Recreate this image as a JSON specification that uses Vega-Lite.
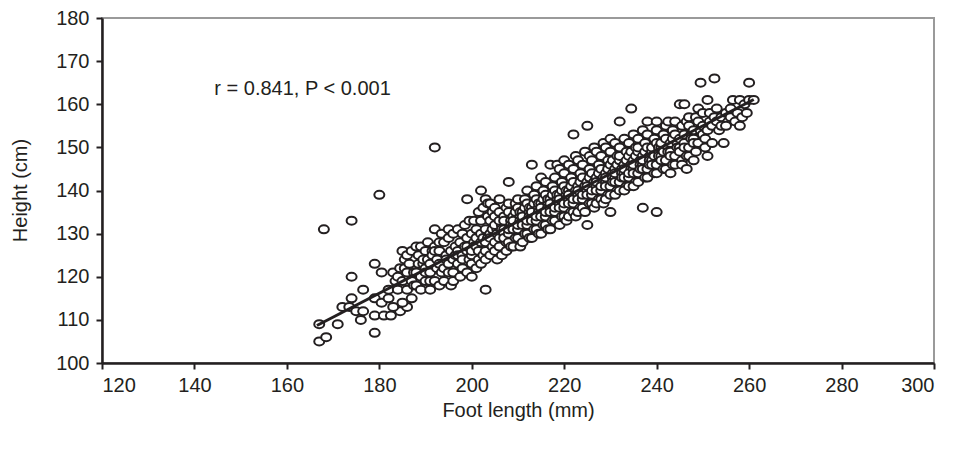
{
"$schema": "https://vega.github.io/schema/vega-lite/v6.json",
"width": 832, "height": 345,
"autosize": {"type": "none"},
"padding": {"left": 102, "top": 18, "right": 20, "bottom": 89},
"background": "white",
"config": {
 "view": {"stroke": "#9a9a9a", "strokeWidth": 2},
 "font": "Liberation Sans",
 "axis": {"domainColor": "#231f20", "domainWidth": 2.5, "tickColor": "#231f20", "tickWidth": 2, "tickSize": 6, "grid": false, "labelFont": "Liberation Sans", "labelFontSize": 20, "labelColor": "#231f20", "titleFont": "Liberation Sans", "titleFontSize": 20, "titleFontWeight": "normal", "titleColor": "#231f20"}
},
"datasets": {
 "pts": [
{"f":167,"h":109},{"f":167,"h":105},{"f":168.5,"h":106},{"f":171,"h":109},{"f":174,"h":120},{"f":179,"h":123},{"f":180.5,"h":121},{"f":179,"h":107},{"f":176.5,"h":117},{"f":174,"h":115},{"f":172,"h":113},{"f":173.5,"h":113},{"f":175,"h":112},{"f":176.5,"h":112},{"f":176,"h":110},{"f":179,"h":111},{"f":181,"h":111},{"f":182.5,"h":111},{"f":184.5,"h":112},{"f":186,"h":113},{"f":179,"h":115},{"f":180.5,"h":114},{"f":182,"h":115},{"f":182,"h":117},{"f":180,"h":139},{"f":174,"h":133},{"f":168,"h":131},{"f":192,"h":150},{"f":192,"h":131},{"f":203,"h":117},
{"f":183,"h":113},{"f":183.5,"h":119},{"f":183,"h":121},
{"f":184,"h":117},{"f":184.5,"h":122},{"f":184,"h":120},
{"f":185,"h":119},{"f":185.5,"h":124},{"f":185,"h":114},{"f":185,"h":126},{"f":185.5,"h":122},
{"f":186,"h":117},{"f":186.5,"h":123},{"f":186,"h":125},{"f":186.5,"h":120},{"f":186,"h":121},
{"f":187,"h":119},{"f":187.5,"h":121},{"f":187,"h":126},{"f":187,"h":115},{"f":187.5,"h":118},
{"f":188,"h":121},{"f":188.5,"h":123},{"f":188,"h":118},{"f":188.5,"h":125},{"f":188,"h":127},
{"f":189,"h":120},{"f":189.5,"h":123},{"f":189,"h":127},{"f":189,"h":117},{"f":189.5,"h":124},
{"f":190,"h":122},{"f":190.5,"h":124},{"f":190,"h":119},{"f":190.5,"h":128},{"f":190,"h":121},{"f":190,"h":126},
{"f":191,"h":121},{"f":191.5,"h":126},{"f":191,"h":123},{"f":191,"h":117},{"f":191.5,"h":125},{"f":191,"h":119},
{"f":192,"h":119},{"f":192.5,"h":124},{"f":192,"h":127},{"f":192.5,"h":122},{"f":192,"h":126},
{"f":193,"h":123},{"f":193.5,"h":121},{"f":193,"h":126},{"f":193,"h":118},{"f":193.5,"h":130},{"f":193,"h":128},
{"f":194,"h":122},{"f":194.5,"h":125},{"f":194,"h":128},{"f":194,"h":119},{"f":194.5,"h":124},
{"f":195,"h":121},{"f":195.5,"h":126},{"f":195,"h":123},{"f":195,"h":129},{"f":195.5,"h":118},{"f":195,"h":131},
{"f":196,"h":124},{"f":196.5,"h":127},{"f":196,"h":121},{"f":196,"h":130},{"f":196.5,"h":125},{"f":196,"h":119},
{"f":197,"h":123},{"f":197.5,"h":128},{"f":197,"h":126},{"f":197,"h":131},{"f":197.5,"h":120},{"f":197,"h":125},
{"f":198,"h":122},{"f":198.5,"h":127},{"f":198,"h":125},{"f":198,"h":130},{"f":198.5,"h":132},{"f":198,"h":124},
{"f":199,"h":126},{"f":199.5,"h":124},{"f":199,"h":129},{"f":199,"h":121},{"f":199.5,"h":133},{"f":199,"h":127},{"f":199,"h":138},
{"f":200,"h":125},{"f":200.5,"h":128},{"f":200,"h":123},{"f":200,"h":130},{"f":200.5,"h":133},{"f":200,"h":120},{"f":200.5,"h":127},{"f":200,"h":126},
{"f":201,"h":127},{"f":201.5,"h":124},{"f":201,"h":131},{"f":201,"h":129},{"f":201.5,"h":135},{"f":201,"h":122},{"f":201.5,"h":126},
{"f":202,"h":128},{"f":202.5,"h":125},{"f":202,"h":130},{"f":202,"h":133},{"f":202.5,"h":136},{"f":202,"h":123},{"f":202.5,"h":129},{"f":202,"h":140},
{"f":203,"h":126},{"f":203.5,"h":129},{"f":203,"h":131},{"f":203,"h":124},{"f":203.5,"h":134},{"f":203,"h":128},{"f":203,"h":138},{"f":203.5,"h":137},
{"f":204,"h":130},{"f":204.5,"h":127},{"f":204,"h":133},{"f":204,"h":125},{"f":204.5,"h":135},{"f":204,"h":129},{"f":204.5,"h":131},{"f":204,"h":137},
{"f":205,"h":128},{"f":205.5,"h":131},{"f":205,"h":126},{"f":205,"h":134},{"f":205.5,"h":130},{"f":205,"h":136},{"f":205.5,"h":124},{"f":205,"h":132},
{"f":206,"h":129},{"f":206.5,"h":132},{"f":206,"h":127},{"f":206,"h":135},{"f":206.5,"h":131},{"f":206,"h":138},{"f":206.5,"h":125},{"f":206,"h":133},
{"f":207,"h":131},{"f":207.5,"h":128},{"f":207,"h":134},{"f":207,"h":130},{"f":207.5,"h":136},{"f":207,"h":133},{"f":207.5,"h":126},{"f":207,"h":129},
{"f":208,"h":130},{"f":208.5,"h":133},{"f":208,"h":128},{"f":208,"h":135},{"f":208.5,"h":132},{"f":208,"h":137},{"f":208.5,"h":127},{"f":208,"h":131},{"f":208,"h":142},
{"f":209,"h":132},{"f":209.5,"h":129},{"f":209,"h":134},{"f":209,"h":131},{"f":209.5,"h":137},{"f":209,"h":127},{"f":209.5,"h":135},{"f":209,"h":133},
{"f":210,"h":131},{"f":210.5,"h":134},{"f":210,"h":129},{"f":210,"h":136},{"f":210.5,"h":133},{"f":210,"h":138},{"f":210.5,"h":127},{"f":210,"h":132},{"f":210.5,"h":135},
{"f":211,"h":133},{"f":211.5,"h":130},{"f":211,"h":135},{"f":211,"h":132},{"f":211.5,"h":138},{"f":211,"h":128},{"f":211.5,"h":136},{"f":211,"h":134},
{"f":212,"h":132},{"f":212.5,"h":135},{"f":212,"h":130},{"f":212,"h":137},{"f":212.5,"h":134},{"f":212,"h":140},{"f":212.5,"h":129},{"f":212,"h":133},{"f":212.5,"h":136},
{"f":213,"h":134},{"f":213.5,"h":131},{"f":213,"h":136},{"f":213,"h":133},{"f":213.5,"h":139},{"f":213,"h":129},{"f":213.5,"h":137},{"f":213,"h":135},{"f":213,"h":146},
{"f":214,"h":133},{"f":214.5,"h":136},{"f":214,"h":131},{"f":214,"h":138},{"f":214.5,"h":135},{"f":214,"h":141},{"f":214.5,"h":130},{"f":214,"h":134},{"f":214.5,"h":137},
{"f":215,"h":135},{"f":215.5,"h":132},{"f":215,"h":137},{"f":215,"h":134},{"f":215.5,"h":140},{"f":215,"h":130},{"f":215.5,"h":138},{"f":215,"h":136},{"f":215,"h":143},
{"f":216,"h":134},{"f":216.5,"h":137},{"f":216,"h":132},{"f":216,"h":139},{"f":216.5,"h":136},{"f":216,"h":142},{"f":216.5,"h":131},{"f":216,"h":135},{"f":216.5,"h":138},
{"f":217,"h":136},{"f":217.5,"h":133},{"f":217,"h":138},{"f":217,"h":135},{"f":217.5,"h":141},{"f":217,"h":131},{"f":217.5,"h":139},{"f":217,"h":137},{"f":217,"h":146},
{"f":218,"h":135},{"f":218.5,"h":138},{"f":218,"h":133},{"f":218,"h":140},{"f":218.5,"h":137},{"f":218,"h":143},{"f":218.5,"h":146},{"f":218,"h":136},{"f":218.5,"h":139},
{"f":219,"h":137},{"f":219.5,"h":134},{"f":219,"h":139},{"f":219,"h":136},{"f":219.5,"h":142},{"f":219,"h":132},{"f":219.5,"h":140},{"f":219,"h":138},{"f":219,"h":145},
{"f":220,"h":136},{"f":220.5,"h":139},{"f":220,"h":134},{"f":220,"h":141},{"f":220.5,"h":138},{"f":220,"h":144},{"f":220.5,"h":133},{"f":220,"h":137},{"f":220.5,"h":140},{"f":220,"h":147},
{"f":221,"h":138},{"f":221.5,"h":135},{"f":221,"h":140},{"f":221,"h":137},{"f":221.5,"h":143},{"f":221,"h":134},{"f":221.5,"h":141},{"f":221,"h":139},{"f":221,"h":146},
{"f":222,"h":137},{"f":222.5,"h":140},{"f":222,"h":135},{"f":222,"h":142},{"f":222.5,"h":139},{"f":222,"h":145},{"f":222.5,"h":134},{"f":222,"h":138},{"f":222.5,"h":148},{"f":222,"h":153},
{"f":223,"h":139},{"f":223.5,"h":136},{"f":223,"h":141},{"f":223,"h":138},{"f":223.5,"h":144},{"f":223,"h":135},{"f":223.5,"h":142},{"f":223,"h":140},{"f":223,"h":147},
{"f":224,"h":138},{"f":224.5,"h":141},{"f":224,"h":136},{"f":224,"h":143},{"f":224.5,"h":140},{"f":224,"h":146},{"f":224.5,"h":135},{"f":224,"h":139},{"f":224.5,"h":149},
{"f":225,"h":140},{"f":225.5,"h":137},{"f":225,"h":142},{"f":225,"h":139},{"f":225.5,"h":145},{"f":225,"h":155},{"f":225.5,"h":143},{"f":225,"h":141},{"f":225.5,"h":148},{"f":225,"h":132},
{"f":226,"h":139},{"f":226.5,"h":142},{"f":226,"h":137},{"f":226,"h":144},{"f":226.5,"h":141},{"f":226,"h":147},{"f":226.5,"h":136},{"f":226,"h":140},{"f":226.5,"h":150},
{"f":227,"h":141},{"f":227.5,"h":138},{"f":227,"h":143},{"f":227,"h":140},{"f":227.5,"h":146},{"f":227,"h":137},{"f":227.5,"h":144},{"f":227,"h":142},{"f":227,"h":149},
{"f":228,"h":140},{"f":228.5,"h":143},{"f":228,"h":138},{"f":228,"h":145},{"f":228.5,"h":142},{"f":228,"h":148},{"f":228.5,"h":137},{"f":228,"h":141},{"f":228.5,"h":151},
{"f":229,"h":142},{"f":229.5,"h":139},{"f":229,"h":144},{"f":229,"h":141},{"f":229.5,"h":147},{"f":229,"h":138},{"f":229.5,"h":145},{"f":229,"h":143},{"f":229,"h":150},
{"f":230,"h":141},{"f":230.5,"h":144},{"f":230,"h":139},{"f":230,"h":146},{"f":230.5,"h":143},{"f":230,"h":149},{"f":230,"h":135},{"f":230.5,"h":142},{"f":230,"h":152},{"f":230.5,"h":147},
{"f":231,"h":143},{"f":231.5,"h":140},{"f":231,"h":145},{"f":231,"h":142},{"f":231.5,"h":148},{"f":231,"h":139},{"f":231.5,"h":146},{"f":231,"h":144},{"f":231,"h":151},
{"f":232,"h":142},{"f":232.5,"h":145},{"f":232,"h":140},{"f":232,"h":147},{"f":232.5,"h":144},{"f":232,"h":150},{"f":232,"h":156},{"f":232.5,"h":143},{"f":232,"h":148},
{"f":233,"h":144},{"f":233.5,"h":141},{"f":233,"h":146},{"f":233,"h":143},{"f":233.5,"h":149},{"f":233,"h":140},{"f":233.5,"h":147},{"f":233,"h":145},{"f":233,"h":152},
{"f":234,"h":143},{"f":234.5,"h":146},{"f":234,"h":141},{"f":234,"h":148},{"f":234.5,"h":145},{"f":234,"h":151},{"f":234.5,"h":159},{"f":234,"h":144},{"f":234.5,"h":149},
{"f":235,"h":145},{"f":235.5,"h":142},{"f":235,"h":147},{"f":235,"h":144},{"f":235.5,"h":150},{"f":235,"h":141},{"f":235.5,"h":148},{"f":235,"h":146},{"f":235,"h":153},
{"f":236,"h":144},{"f":236.5,"h":147},{"f":236,"h":142},{"f":236,"h":149},{"f":236.5,"h":146},{"f":236,"h":152},{"f":236.5,"h":145},{"f":236,"h":150},
{"f":237,"h":146},{"f":237.5,"h":143},{"f":237,"h":148},{"f":237,"h":145},{"f":237.5,"h":151},{"f":237,"h":136},{"f":237.5,"h":149},{"f":237,"h":147},{"f":237,"h":154},
{"f":238,"h":145},{"f":238.5,"h":148},{"f":238,"h":143},{"f":238,"h":150},{"f":238.5,"h":147},{"f":238,"h":153},{"f":238.5,"h":146},{"f":238,"h":156},
{"f":239,"h":147},{"f":239.5,"h":144},{"f":239,"h":149},{"f":239,"h":146},{"f":239.5,"h":152},{"f":239,"h":150},{"f":239.5,"h":148},
{"f":240,"h":146},{"f":240.5,"h":149},{"f":240,"h":144},{"f":240,"h":151},{"f":240.5,"h":148},{"f":240,"h":154},{"f":240,"h":135},{"f":240.5,"h":150},{"f":240,"h":156},
{"f":241,"h":148},{"f":241.5,"h":145},{"f":241,"h":150},{"f":241,"h":147},{"f":241.5,"h":153},{"f":241,"h":151},{"f":241.5,"h":149},
{"f":242,"h":147},{"f":242.5,"h":150},{"f":242,"h":145},{"f":242,"h":152},{"f":242.5,"h":149},{"f":242,"h":155},{"f":242.5,"h":156},
{"f":243,"h":149},{"f":243.5,"h":146},{"f":243,"h":151},{"f":243,"h":148},{"f":243.5,"h":154},{"f":243,"h":144},{"f":243.5,"h":152},
{"f":244,"h":148},{"f":244.5,"h":151},{"f":244,"h":146},{"f":244,"h":153},{"f":244.5,"h":150},{"f":244,"h":156},
{"f":245,"h":150},{"f":245.5,"h":147},{"f":245,"h":152},{"f":245,"h":149},{"f":245.5,"h":155},{"f":245,"h":160},{"f":245.5,"h":146},
{"f":246,"h":151},{"f":246.5,"h":148},{"f":246,"h":153},{"f":246,"h":150},{"f":246.5,"h":156},{"f":246,"h":160},{"f":246.5,"h":145},
{"f":247,"h":150},{"f":247.5,"h":153},{"f":247,"h":148},{"f":247,"h":155},{"f":247.5,"h":152},{"f":247,"h":157},
{"f":248,"h":152},{"f":248.5,"h":149},{"f":248,"h":154},{"f":248,"h":151},{"f":248.5,"h":157},{"f":248,"h":147},
{"f":249,"h":151},{"f":249.5,"h":154},{"f":249,"h":159},{"f":249.5,"h":165},{"f":249,"h":156},
{"f":250,"h":153},{"f":250.5,"h":150},{"f":250,"h":155},{"f":250,"h":158},{"f":250.5,"h":152},
{"f":251,"h":154},{"f":251.5,"h":158},{"f":251,"h":161},{"f":251,"h":148},{"f":251.5,"h":156},
{"f":252,"h":155},{"f":252.5,"h":157},{"f":252.5,"h":166},{"f":252,"h":151},
{"f":253,"h":156},{"f":253.5,"h":154},{"f":253,"h":159},
{"f":254,"h":157},{"f":254.5,"h":151},{"f":254,"h":155},
{"f":255,"h":158},{"f":255.5,"h":156},{"f":255,"h":155},
{"f":256,"h":157},{"f":256.5,"h":161},{"f":256,"h":159},
{"f":257,"h":156},{"f":257.5,"h":158},
{"f":258,"h":161},{"f":258.5,"h":157},{"f":258,"h":155},
{"f":259,"h":160},{"f":259.5,"h":158},
{"f":260,"h":165},{"f":260,"h":161},
{"f":261,"h":161}
 ],
 "fit": [{"f":166.5,"h":108.7},{"f":261,"h":161.1}],
 "note": [{"f":144.3,"h":163.6,"label":"r = 0.841, P < 0.001"}]
},
"layer": [
 {
  "data": {"name": "pts"},
  "mark": {"type": "point", "shape": "M-1,0A1,0.8,0,1,1,1,0A1,0.8,0,1,1,-1,0Z", "size": 100, "filled": false, "fill": "white", "fillOpacity": 1, "stroke": "#231f20", "strokeWidth": 2, "opacity": 1},
  "encoding": {
   "x": {"field": "f", "type": "quantitative", "scale": {"domain": [120, 300], "nice": false, "zero": false},
     "axis": {"values": [120,140,160,180,200,220,240,260,280,300], "title": "Foot length (mm)", "labelPadding": 6, "titleX": 416, "titleY": 47, "titleBaseline": "middle", "titleAlign": "center"}},
   "y": {"field": "h", "type": "quantitative", "scale": {"domain": [100, 180], "nice": false, "zero": false},
     "axis": {"values": [100,110,120,130,140,150,160,170,180], "title": "Height (cm)", "labelPadding": 7, "titleX": -82, "titleY": 172, "titleAngle": -90, "titleBaseline": "middle", "titleAlign": "center"}}
  }
 },
 {
  "data": {"name": "fit"},
  "mark": {"type": "line", "color": "#231f20", "strokeWidth": 3},
  "encoding": {"x": {"field": "f", "type": "quantitative"}, "y": {"field": "h", "type": "quantitative"}}
 },
 {
  "data": {"name": "note"},
  "mark": {"type": "text", "align": "left", "baseline": "middle", "fontSize": 20, "color": "#231f20", "font": "Liberation Sans"},
  "encoding": {"x": {"field": "f", "type": "quantitative"}, "y": {"field": "h", "type": "quantitative"}, "text": {"field": "label"}}
 }
]
}
